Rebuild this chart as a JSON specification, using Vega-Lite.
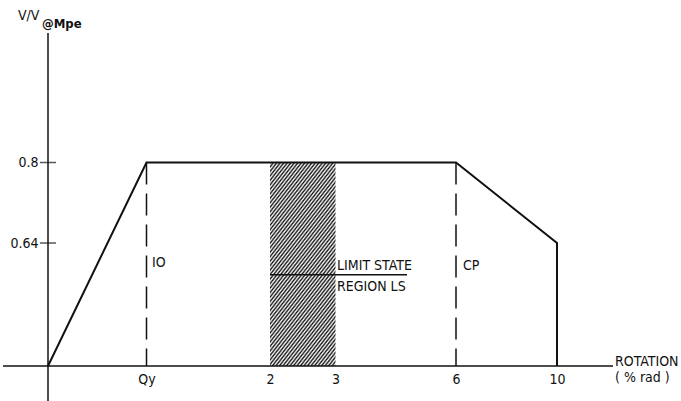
{
  "$schema": "https://vega.github.io/schema/vega-lite/v6.json",
  "width": 681,
  "height": 401,
  "autosize": "none",
  "padding": 0,
  "background": "white",
  "config": {
    "view": {"stroke": null},
    "font": "DejaVu Sans Condensed, Liberation Sans",
    "axis": {"labelFont": "DejaVu Sans Condensed, Liberation Sans", "labelFontSize": 14, "labelColor": "#111", "grid": false, "domain": false, "ticks": false, "title": null}
  },
  "datasets": {
    "backbone": [
      {"x": 0, "y": 0, "o": 1},
      {"x": 1, "y": 0.8, "o": 2},
      {"x": 6, "y": 0.8, "o": 3},
      {"x": 10, "y": 0.64, "o": 4},
      {"x": 10, "y": 0, "o": 5}
    ],
    "dashed": [
      {"x": 1, "y": 0.8, "y2": 0},
      {"x": 6, "y": 0.8, "y2": 0}
    ],
    "hatch": [{"x": 2, "x2": 3, "y": 0, "y2": 0.8}],
    "rules": [
      {"x": -1, "x2": 11, "y": 0, "y2": 0},
      {"x": 0, "x2": 0, "y": -0.1, "y2": 1.2},
      {"x": 2, "x2": 4.78, "y": 0.475, "y2": 0.475}
    ],
    "yticks": [{"x": 0, "y": 0.8}, {"x": 0, "y": 0.64}],
    "labels": [
      {"x": 1.045, "y": 0.536, "text": "IO"},
      {"x": 6.28, "y": 0.52, "text": "CP"},
      {"x": 3.04, "y": 0.52, "text": "LIMIT STATE"},
      {"x": 3.04, "y": 0.413, "text": "REGION LS"},
      {"x": 11.036, "y": 0.0234, "text": "ROTATION"},
      {"x": 11.036, "y": -0.0343, "text": "( % rad )"},
      {"x": -0.667, "y": 1.2525, "text": "V/V"}
    ],
    "sub": [{"x": -0.133, "y": 1.228, "text": "@Mpe"}]
  },
  "encoding": {
    "x": {
      "field": "x", "type": "quantitative",
      "scale": {"domain": [-1, 0, 1, 2, 3, 6, 10, 11], "range": [3, 48, 146.5, 270, 335.5, 456, 557, 613], "nice": false, "zero": false},
      "axis": {"values": [1, 2, 3, 6, 10], "labelExpr": "datum.value == 1 ? 'Qy' : datum.label", "offset": -35, "labelBaseline": "middle", "labelPadding": 13, "labelAlign": "center"}
    },
    "y": {
      "field": "y", "type": "quantitative",
      "scale": {"domain": [-0.1, 0, 0.64, 0.8, 1.2], "range": [401, 366, 243, 162.5, 33], "nice": false, "zero": false},
      "axis": {"values": [0.64, 0.8], "labelExpr": "datum.value > 0.7 ? '0.8' : '0.64'", "offset": -48, "labelPadding": 10, "labelAlign": "right", "labelBaseline": "middle"}
    }
  },
  "layer": [
    {
      "data": {"name": "hatch"},
      "mark": {
        "type": "rect",
        "fill": {
          "gradient": "linear", "x1": 0, "y1": 0, "x2": 0.4966, "y2": 1.207,
          "stops": [
{"offset":0,"color":"#111"},{"offset":0.0078125,"color":"#fff"},
{"offset":0.015625,"color":"#111"},{"offset":0.0234375,"color":"#fff"},
{"offset":0.03125,"color":"#111"},{"offset":0.0390625,"color":"#fff"},
{"offset":0.046875,"color":"#111"},{"offset":0.0546875,"color":"#fff"},
{"offset":0.0625,"color":"#111"},{"offset":0.0703125,"color":"#fff"},
{"offset":0.078125,"color":"#111"},{"offset":0.0859375,"color":"#fff"},
{"offset":0.09375,"color":"#111"},{"offset":0.1015625,"color":"#fff"},
{"offset":0.109375,"color":"#111"},{"offset":0.1171875,"color":"#fff"},
{"offset":0.125,"color":"#111"},{"offset":0.1328125,"color":"#fff"},
{"offset":0.140625,"color":"#111"},{"offset":0.1484375,"color":"#fff"},
{"offset":0.15625,"color":"#111"},{"offset":0.1640625,"color":"#fff"},
{"offset":0.171875,"color":"#111"},{"offset":0.1796875,"color":"#fff"},
{"offset":0.1875,"color":"#111"},{"offset":0.1953125,"color":"#fff"},
{"offset":0.203125,"color":"#111"},{"offset":0.2109375,"color":"#fff"},
{"offset":0.21875,"color":"#111"},{"offset":0.2265625,"color":"#fff"},
{"offset":0.234375,"color":"#111"},{"offset":0.2421875,"color":"#fff"},
{"offset":0.25,"color":"#111"},{"offset":0.2578125,"color":"#fff"},
{"offset":0.265625,"color":"#111"},{"offset":0.2734375,"color":"#fff"},
{"offset":0.28125,"color":"#111"},{"offset":0.2890625,"color":"#fff"},
{"offset":0.296875,"color":"#111"},{"offset":0.3046875,"color":"#fff"},
{"offset":0.3125,"color":"#111"},{"offset":0.3203125,"color":"#fff"},
{"offset":0.328125,"color":"#111"},{"offset":0.3359375,"color":"#fff"},
{"offset":0.34375,"color":"#111"},{"offset":0.3515625,"color":"#fff"},
{"offset":0.359375,"color":"#111"},{"offset":0.3671875,"color":"#fff"},
{"offset":0.375,"color":"#111"},{"offset":0.3828125,"color":"#fff"},
{"offset":0.390625,"color":"#111"},{"offset":0.3984375,"color":"#fff"},
{"offset":0.40625,"color":"#111"},{"offset":0.4140625,"color":"#fff"},
{"offset":0.421875,"color":"#111"},{"offset":0.4296875,"color":"#fff"},
{"offset":0.4375,"color":"#111"},{"offset":0.4453125,"color":"#fff"},
{"offset":0.453125,"color":"#111"},{"offset":0.4609375,"color":"#fff"},
{"offset":0.46875,"color":"#111"},{"offset":0.4765625,"color":"#fff"},
{"offset":0.484375,"color":"#111"},{"offset":0.4921875,"color":"#fff"},
{"offset":0.5,"color":"#111"},{"offset":0.5078125,"color":"#fff"},
{"offset":0.515625,"color":"#111"},{"offset":0.5234375,"color":"#fff"},
{"offset":0.53125,"color":"#111"},{"offset":0.5390625,"color":"#fff"},
{"offset":0.546875,"color":"#111"},{"offset":0.5546875,"color":"#fff"},
{"offset":0.5625,"color":"#111"},{"offset":0.5703125,"color":"#fff"},
{"offset":0.578125,"color":"#111"},{"offset":0.5859375,"color":"#fff"},
{"offset":0.59375,"color":"#111"},{"offset":0.6015625,"color":"#fff"},
{"offset":0.609375,"color":"#111"},{"offset":0.6171875,"color":"#fff"},
{"offset":0.625,"color":"#111"},{"offset":0.6328125,"color":"#fff"},
{"offset":0.640625,"color":"#111"},{"offset":0.6484375,"color":"#fff"},
{"offset":0.65625,"color":"#111"},{"offset":0.6640625,"color":"#fff"},
{"offset":0.671875,"color":"#111"},{"offset":0.6796875,"color":"#fff"},
{"offset":0.6875,"color":"#111"},{"offset":0.6953125,"color":"#fff"},
{"offset":0.703125,"color":"#111"},{"offset":0.7109375,"color":"#fff"},
{"offset":0.71875,"color":"#111"},{"offset":0.7265625,"color":"#fff"},
{"offset":0.734375,"color":"#111"},{"offset":0.7421875,"color":"#fff"},
{"offset":0.75,"color":"#111"},{"offset":0.7578125,"color":"#fff"},
{"offset":0.765625,"color":"#111"},{"offset":0.7734375,"color":"#fff"},
{"offset":0.78125,"color":"#111"},{"offset":0.7890625,"color":"#fff"},
{"offset":0.796875,"color":"#111"},{"offset":0.8046875,"color":"#fff"},
{"offset":0.8125,"color":"#111"},{"offset":0.8203125,"color":"#fff"},
{"offset":0.828125,"color":"#111"},{"offset":0.8359375,"color":"#fff"},
{"offset":0.84375,"color":"#111"},{"offset":0.8515625,"color":"#fff"},
{"offset":0.859375,"color":"#111"},{"offset":0.8671875,"color":"#fff"},
{"offset":0.875,"color":"#111"},{"offset":0.8828125,"color":"#fff"},
{"offset":0.890625,"color":"#111"},{"offset":0.8984375,"color":"#fff"},
{"offset":0.90625,"color":"#111"},{"offset":0.9140625,"color":"#fff"},
{"offset":0.921875,"color":"#111"},{"offset":0.9296875,"color":"#fff"},
{"offset":0.9375,"color":"#111"},{"offset":0.9453125,"color":"#fff"},
{"offset":0.953125,"color":"#111"},{"offset":0.9609375,"color":"#fff"},
{"offset":0.96875,"color":"#111"},{"offset":0.9765625,"color":"#fff"},
{"offset":0.984375,"color":"#111"},{"offset":0.9921875,"color":"#fff"},
{"offset":1,"color":"#111"}
          ]
        }
      },
      "encoding": {"x2": {"field": "x2"}, "y2": {"field": "y2"}}
    },
    {
      "data": {"name": "dashed"},
      "mark": {"type": "rule", "color": "#111", "strokeWidth": 1.5, "strokeDash": [22, 9]},
      "encoding": {"y2": {"field": "y2"}}
    },
    {
      "data": {"name": "rules"},
      "mark": {"type": "rule", "color": "#111", "strokeWidth": 1.5},
      "encoding": {"x2": {"field": "x2"}, "y2": {"field": "y2"}}
    },
    {
      "data": {"name": "yticks"},
      "mark": {"type": "tick", "orient": "horizontal", "color": "#111", "size": 16, "thickness": 1.5}
    },
    {
      "data": {"name": "backbone"},
      "mark": {"type": "line", "color": "#111", "strokeWidth": 2, "strokeJoin": "miter"},
      "encoding": {"order": {"field": "o", "type": "quantitative"}}
    },
    {
      "data": {"name": "labels"},
      "mark": {"type": "text", "align": "left", "baseline": "middle", "font": "DejaVu Sans Condensed, Liberation Sans", "fontSize": 14, "color": "#111"},
      "encoding": {"text": {"field": "text"}}
    },
    {
      "data": {"name": "sub"},
      "mark": {"type": "text", "align": "left", "baseline": "middle", "font": "DejaVu Sans Condensed, Liberation Sans", "fontSize": 13, "fontWeight": "bold", "color": "#111"},
      "encoding": {"text": {"field": "text"}}
    }
  ]
}
